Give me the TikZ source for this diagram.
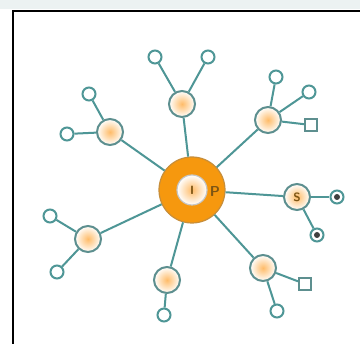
\documentclass[tikz,border=0pt]{standalone}
\usepackage{tikz}
\definecolor{linkteal}{RGB}{78,150,150}
\definecolor{coreorange}{RGB}{246,152,14}
\definecolor{hubfill}{RGB}{255,188,105}
\definecolor{bandgray}{RGB}{236,242,242}
\definecolor{labelbrown}{RGB}{125,85,20}
\tikzset{>=stealth,
  hub/.style={circle, minimum size=26pt, inner sep=0pt, draw=linkteal!70!gray, line width=2pt,
    shading=radial, inner color=hubfill, outer color=white, font=\sffamily\bfseries\large, text=labelbrown},
  leaf/.style={circle, minimum size=13pt, inner sep=0pt, draw=linkteal, line width=2pt, fill=white},
  leafbox/.style={leaf, rectangle, minimum size=12pt, draw=linkteal!70!gray},
  leafmark/.style={leaf, path picture={\fill[darkgray] (path picture bounding box.center) circle (3pt);}},
  core/.style={circle, minimum size=66pt, inner sep=0pt, fill=coreorange, draw=coreorange!60!gray, line width=1.2pt},
  coreeye/.style={circle, minimum size=30pt, inner sep=0pt, draw=gray!45, line width=1.2pt,
    shading=radial, inner color=hubfill, outer color=white, font=\sffamily\bfseries\large, text=labelbrown},
  link/.style={draw=linkteal, line width=2pt}}

\begin{document}
\begin{tikzpicture}[x=1pt, y=-1pt]
    \useasboundingbox (0,0) rectangle (360,344);
    \fill[white] (0,0) rectangle (360,344);
    \fill[bandgray] (0,0) rectangle (360,9);
    \draw[line width=2.4pt] (13,350) |- (366,11);
    % centre
    \node[core] (I) at (192,190) {};
    \node[coreeye] (Ieye) at (I) {I};
    \node[font=\sffamily\bfseries\Large, text=labelbrown] (Plab) at (215,192) {P};
    % hubs
    \node[hub] (hTop) at (182,104) {};
    \node[hub] (hNW) at (110,132) {};
    \node[hub] (hNE) at (268,120) {};
    \node[hub] (hS) at (297,197) {S};
    \node[hub] (hSW) at (88,239) {};
    \node[hub] (hBot) at (167,280) {};
    \node[hub] (hSE) at (263,268) {};
    % leaves
    \node[leaf] (lTopA) at (155,57) {};
    \node[leaf] (lTopB) at (208,57) {};
    \node[leaf] (lNWa) at (89,94) {};
    \node[leaf] (lNWb) at (67,134) {};
    \node[leaf] (lNEa) at (276,77) {};
    \node[leaf] (lNEb) at (309,92) {};
    \node[leafbox] (lNEc) at (311,125) {};
    \node[leafmark] (lSa) at (337,197) {};
    \node[leafmark] (lSb) at (317,235) {};
    \node[leaf] (lSWa) at (50,216) {};
    \node[leaf] (lSWb) at (57,272) {};
    \node[leaf] (lBot) at (164,315) {};
    \node[leafbox] (lSEa) at (305,284) {};
    \node[leaf] (lSEb) at (277,311) {};
    % links
    \foreach \h in {hTop, hNW, hNE, hS, hSW, hBot, hSE}
        \draw[link] (I) -- (\h);
    \foreach \h/\l in {hTop/lTopA, hTop/lTopB, hNW/lNWa, hNW/lNWb, hNE/lNEa, hNE/lNEb, hNE/lNEc,
        hS/lSa, hS/lSb, hSW/lSWa, hSW/lSWb, hBot/lBot, hSE/lSEa, hSE/lSEb}
        \draw[link] (\h) -- (\l);
\end{tikzpicture}
\end{document}
